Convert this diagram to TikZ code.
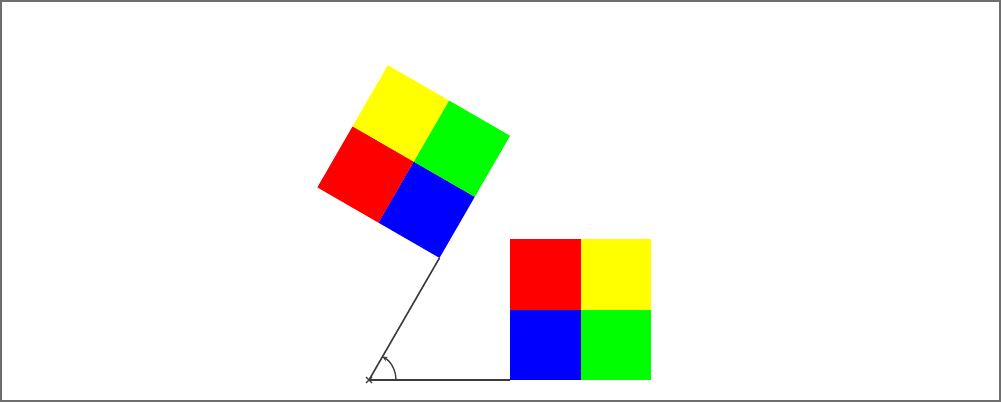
\documentclass[tikz,border=0pt]{standalone}
\usetikzlibrary{arrows.meta}
\definecolor{lineg}{RGB}{60,60,60}
\definecolor{frameg}{RGB}{110,110,110}
\definecolor{cred}{RGB}{255,0,0}
\definecolor{cgreen}{RGB}{0,255,0}
\definecolor{cblue}{RGB}{0,0,255}
\definecolor{cyellow}{RGB}{255,255,0}
\tikzset{
  conn/.style={draw=lineg, line width=1.6pt},
  pics/colorsquare/.style={code={
    \fill[cblue]   (0,0)     rectangle (70.5,70.5);
    \fill[cgreen]  (70.5,0)  rectangle (141,70.5);
    \fill[cred]    (0,70.5)  rectangle (70.5,141);
    \fill[cyellow] (70.5,70.5) rectangle (141,141);
  }}
}
\begin{document}
\begin{tikzpicture}[x=1pt,y=1pt]
\useasboundingbox (0,0) rectangle (1001,402);
\draw[frameg, line width=2pt] (1,1) rectangle (1000,401);
\coordinate (O) at (369,22);
\coordinate (A) at (510,22);
\pic at (A) {colorsquare};
\begin{scope}[shift={(O)}, rotate=60]
  \coordinate (B) at (141,0);
  \pic[transform shape] at (B) {colorsquare};
\end{scope}
\draw[conn] (O) -- (A);
\draw[conn] (O) -- (B);
\draw[draw=lineg, line width=1.3pt, -{Stealth[length=5pt,width=5pt]}] ([shift={(0:27)}]O) arc (0:60:27);
\draw[draw=lineg, line width=1.3pt] ([shift={(-3,-3)}]O) -- ([shift={(3,3)}]O) ([shift={(-3,3)}]O) -- ([shift={(3,-3)}]O);
\end{tikzpicture}
\end{document}
